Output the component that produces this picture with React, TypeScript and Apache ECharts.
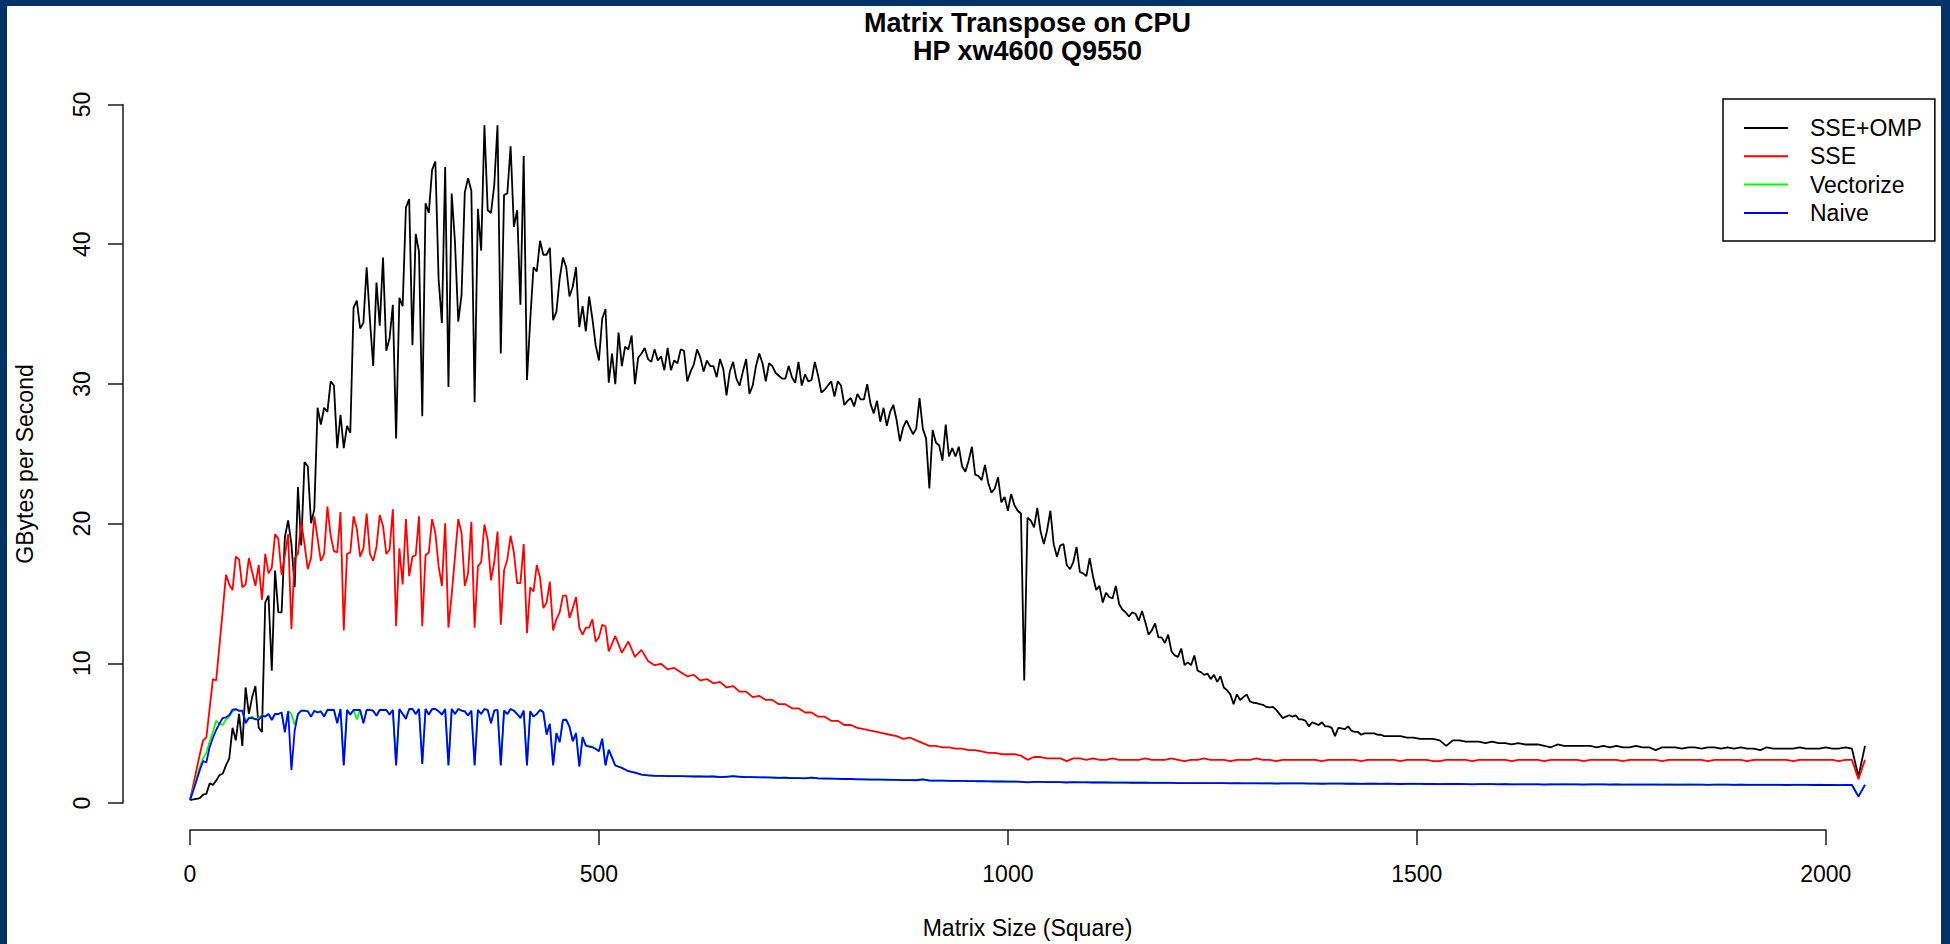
import React, { useEffect, useRef } from "react";
import * as echarts from "echarts";

// ---------- data ----------
// Matrix sizes used by SSE / Vectorize / Naive: every 4 up to 512, then every 8 up to 2048
const SHARED_SIZES: number[] = [];
for (let s = 0; s <= 512; s += 4) SHARED_SIZES.push(s);
for (let s = 520; s <= 2048; s += 8) SHARED_SIZES.push(s);
// Matrix sizes used by SSE+OMP: every 4 up to 1480, then every 8 up to 2048
const OMP_SIZES: number[] = [];
for (let s = 0; s <= 1480; s += 4) OMP_SIZES.push(s);
for (let s = 1488; s <= 2048; s += 8) OMP_SIZES.push(s);

const SERIES_NAMES = ["SSE+OMP", "SSE", "Vectorize", "Naive"];
const SERIES_COLORS = ["#000000", "#ff0000", "#00ff00", "#0000ff"];

const SSE_OMP_HEAD = [
  0, 0.05, 0.1, 0.15, 0.4, 0.45, 1.2, 1.1, 1.4, 1.8, 1.9, 2.5, 3.0, 5.2, 4.3, 6.2,
  3.9, 8.1, 6.2, 7.4, 8.2, 5.2, 4.9, 14.2, 14.7, 9.3, 16.5, 13.5, 13.5, 18.9, 20.1, 18.4,
  15.3, 22.5, 18.3, 24.3, 24.0, 19.9, 20.9, 28.2, 27.0, 28.2, 27.9, 30.1, 29.8, 25.3, 27.7, 25.3,
  26.9, 26.4, 35.4, 35.9, 33.9, 34.3, 38.3, 34.5, 31.2, 37.2, 34.1, 39.0, 32.3, 33.2, 35.6, 26.0,
  36.1, 35.5, 42.6, 43.2, 32.7, 40.7, 39.4, 27.6, 42.9, 42.2, 45.3, 45.9, 37.4, 34.3, 45.5, 29.7,
  43.6, 40.1, 34.4, 36.3, 43.7, 44.7, 43.8, 28.6, 42.5, 39.5, 48.5, 42.4, 42.2, 44.2, 48.5, 32.1,
  43.5, 43.6, 47.0, 41.2, 42.4, 35.6, 46.3, 30.2, 34.5, 38.3, 38.0, 40.2, 39.2, 39.2, 39.7, 34.5,
  35.1, 37.5, 39.0, 38.3, 36.2, 36.9, 38.3, 34.0, 35.5, 33.7, 36.2, 34.6, 32.7, 31.6, 34.6, 35.3,
  30.0,
];
const SSE_OMP_MID = [
  32.1, 29.9, 33.6, 31.2, 32.6, 32.4, 33.4, 29.9, 31.8, 32.1, 32.5, 31.7, 31.5, 32.4, 31.6, 31.9,
  30.9, 32.5, 30.9, 31.6, 31.4, 32.4, 32.3, 30.1, 30.8, 31.3, 32.4, 31.8, 30.8, 31.6, 31.2, 31.2,
  30.4, 31.7, 31.0, 29.1, 30.8, 31.5, 30.3, 29.8, 30.8, 31.7, 29.2, 29.8, 31.2, 32.1, 31.4, 30.1,
  31.4, 31.2, 30.7, 30.5, 30.3, 30.3, 31.2, 30.4, 30.0, 31.5, 29.8, 30.6, 30.1, 30.2, 31.5, 30.5,
  29.3, 29.5, 29.8, 30.1, 29.0, 30.1, 29.8, 28.4, 28.7, 28.9, 28.3, 29.2, 28.8, 28.8, 29.9, 28.5,
  27.8, 28.7, 27.2, 28.2, 26.9, 27.9, 28.4, 27.3, 25.8, 26.8, 27.3, 26.8, 26.3, 26.7, 28.9, 26.7,
  26.0, 22.4, 26.6, 25.7, 25.5, 24.4, 27.0, 24.7, 25.3, 24.7, 25.4, 24.0, 23.6, 24.4, 25.4, 23.4,
  23.3, 23.0, 24.1, 22.8, 22.1, 22.4, 23.2, 21.4, 21.8, 20.8, 22.0, 21.2, 20.8, 20.6, 8.6, 20.3,
  20.1, 19.6, 21.0, 19.3, 18.4, 19.4, 20.8, 18.4, 17.5, 18.3, 18.4, 16.9, 16.6, 17.1, 18.2, 16.4,
  16.3, 16.1, 17.4, 16.1, 15.1, 15.4, 14.2, 14.9, 14.6, 14.5, 15.4, 14.1, 13.7, 13.5, 13.2, 13.5,
  13.4, 12.9, 13.6, 12.8, 11.9, 12.2, 12.7, 11.7, 11.7, 11.3, 11.9, 10.7, 10.4, 10.3, 10.9, 9.7,
  9.9, 9.7, 10.4, 9.3, 9.2, 9.0, 9.1, 8.7, 9.0, 8.5, 8.9, 8.1, 7.9, 7.6, 6.9, 7.6,
  7.2, 7.4, 7.6, 7.1, 7.0, 6.97, 6.9, 6.85, 6.7, 6.66, 6.7, 6.5, 6.2, 5.9, 6.0, 6.1,
  6.0, 6.1, 5.8, 5.8, 5.7, 5.3, 5.6, 5.5, 5.4, 5.6, 5.3, 5.3, 5.2, 4.6, 5.2, 5.15,
  5.1, 5.3, 5.0, 4.9, 4.9, 4.7, 4.8, 4.8, 4.8, 4.8, 4.7, 4.7, 4.6, 4.6, 4.6, 4.6,
  4.6, 4.6,
];
const SSE_OMP_TAIL = [
  4.5, 4.5, 4.4, 4.4, 4.4, 4.3, 3.9,
  4.3, 4.3, 4.2, 4.2, 4.2, 4.1, 4.2, 4.1, 4.1, 4.0, 4.1, 4.0, 4.0, 4.0, 3.9, 3.8,
  4.0, 3.9, 3.9, 3.9, 3.9, 3.9, 3.8, 3.9, 3.8, 3.9, 3.8, 3.8, 3.9, 3.8, 3.8, 3.6,
  3.8, 3.8, 3.8, 3.7, 3.8, 3.8, 3.7, 3.8, 3.8, 3.7, 3.8, 3.7, 3.8, 3.7, 3.7, 3.6,
  3.8, 3.7, 3.7, 3.7, 3.7, 3.8, 3.7, 3.7, 3.7, 3.8, 3.7, 3.7, 3.8, 3.7, 1.7, 3.9,
];

const SSE_FINE = [
  0, 1.1, 2.2, 3.3, 4.3, 4.5, 6.6, 8.7, 8.6, 11.1, 13.6, 16.2, 15.5, 15.1, 17.5, 17.3,
  15.3, 15.5, 17.4, 16.4, 15.4, 16.9, 14.4, 17.7, 16.3, 16.7, 19.1, 18.8, 16.2, 17.6, 19.1, 12.3,
  17.4, 17.7, 20.0, 18.4, 16.6, 17.4, 20.4, 18.8, 17.2, 17.7, 21.1, 19.0, 17.9, 17.8, 20.7, 12.2,
  17.7, 17.8, 20.4, 19.5, 17.5, 18.1, 20.6, 17.7, 17.2, 18.2, 20.5, 19.7, 17.7, 18.0, 20.9, 12.5,
  18.1, 15.5, 20.2, 16.1, 17.5, 17.6, 20.4, 12.5, 17.6, 17.8, 20.2, 19.2, 16.8, 15.4, 19.9, 12.4,
  14.8, 17.5, 20.2, 19.2, 15.4, 16.3, 20.0, 12.4, 16.8, 17.1, 19.8, 18.7, 15.8, 17.1, 19.3, 12.6,
  16.5, 17.3, 19.0, 17.8, 15.6, 15.6, 18.4, 12.0, 15.3, 15.0, 16.9, 16.0, 13.8, 14.2, 15.7, 12.2,
  13.0, 13.5, 14.7, 14.7, 13.1, 13.8, 14.6, 12.4, 11.9, 12.4, 12.4, 13.0, 11.4, 11.7, 12.6, 12.5,
  10.7,
];
const SSE_COARSE = [
  11.8, 10.6, 11.4, 10.3, 10.8, 10.0, 9.7, 9.8, 9.4, 9.5, 9.2, 8.9, 9.0, 8.6, 8.7, 8.4,
  8.5, 8.1, 8.2, 7.8, 7.8, 7.4, 7.5, 7.2, 7.2, 6.9, 6.9, 6.6, 6.6, 6.3, 6.3, 6.0,
  6.0, 5.7, 5.7, 5.4, 5.4, 5.2, 5.1, 5.0, 4.9, 4.8, 4.7, 4.6, 4.4, 4.5, 4.3, 4.1,
  3.9, 3.9, 3.8, 3.8, 3.7, 3.7, 3.6, 3.6, 3.5, 3.4, 3.4, 3.3, 3.3, 3.3, 3.2, 2.9,
  3.1, 3.1, 3.0, 3.0, 3.0, 2.8, 3.0, 3.0, 2.9, 3.0, 2.9, 2.9, 3.0, 2.9, 2.9, 2.9,
  2.9, 3.0, 2.9, 2.9, 2.9, 3.0, 2.9, 2.8, 2.9, 2.9, 3.0, 2.9, 2.9, 2.9, 2.8, 2.9,
  2.9, 2.9, 3.0, 2.9, 2.9, 2.8, 2.9, 2.9, 2.9, 2.9, 2.9, 2.9, 2.8, 2.9, 2.9, 2.9,
  2.9, 2.9, 2.8, 2.9, 2.9, 2.9, 2.9, 2.9, 2.8, 2.9, 2.9, 2.9, 2.9, 2.8, 2.8, 2.9,
  2.9, 2.9, 2.9, 2.8, 2.9, 2.9, 2.9, 2.9, 2.9, 2.8, 2.9, 2.9, 2.9, 2.9, 2.8, 2.9,
  2.9, 2.9, 2.9, 2.9, 2.8, 2.9, 2.9, 2.9, 2.9, 2.9, 2.8, 2.9, 2.9, 2.9, 2.9, 2.9,
  2.8, 2.9, 2.9, 2.9, 2.9, 2.9, 2.9, 2.8, 2.9, 2.9, 2.9, 2.9, 2.9, 2.8, 2.9, 2.9,
  2.9, 2.9, 2.9, 2.9, 2.8, 2.9, 2.9, 2.9, 2.9, 2.9, 2.9, 2.8, 2.9, 2.9, 1.5, 2.9,
];

const VECTORIZE_FINE = [
  0, 0.8, 1.6, 2.4, 3.0, 3.4, 4.2, 4.9, 5.7, 5.5, 5.4, 5.8, 6.0, 6.4, 6.5, 6.4,
  6.4, 5.7, 5.9, 6.0, 5.8, 5.9, 6.1, 6.0, 6.2, 5.8, 6.2, 6.2, 6.3, 5.0, 6.4, 6.2,
  5.4, 6.2, 6.4, 6.4, 6.4, 6.0, 6.4, 6.3, 6.4, 6.0, 6.5, 6.5, 6.5, 5.6, 6.5, 2.55,
  6.5, 6.2, 6.5, 5.8, 6.5, 5.6, 6.5, 6.5, 6.4, 6.1, 6.5, 6.5, 6.5, 6.2, 6.5, 2.55,
  6.5, 6.2, 6.0, 6.5, 6.55, 6.2, 6.55, 2.65, 6.55, 6.2, 6.55, 6.55, 6.4, 6.2, 6.55, 2.55,
  6.55, 6.2, 6.55, 6.45, 6.4, 6.1, 6.45, 2.55, 6.5, 6.2, 6.55, 6.5, 5.6, 6.45, 6.5, 2.55,
  6.45, 6.2, 6.55, 6.45, 6.2, 5.95, 6.45, 2.55, 6.4, 6.05, 6.2, 6.5, 6.35, 4.8, 5.5, 2.55,
  4.85, 4.2, 5.8, 5.8, 5.3, 4.3, 4.85, 2.45, 4.55, 3.95, 3.9, 3.85, 3.7, 3.55, 4.45, 2.55,
  3.65,
];
const VECTORIZE_COARSE = [
  2.5, 2.33, 2.09, 1.98, 1.85, 1.79, 1.76, 1.75, 1.74, 1.73, 1.73, 1.72, 1.71, 1.71, 1.70, 1.71,
  1.67, 1.69, 1.72, 1.69, 1.67, 1.67, 1.65, 1.64, 1.63, 1.61, 1.62, 1.59, 1.59, 1.58, 1.62, 1.57,
  1.56, 1.55, 1.54, 1.53, 1.53, 1.51, 1.50, 1.49, 1.49, 1.48, 1.47, 1.46, 1.45, 1.45, 1.44, 1.49,
  1.42, 1.41, 1.41, 1.40, 1.39, 1.39, 1.38, 1.37, 1.37, 1.36, 1.35, 1.35, 1.34, 1.34, 1.33, 1.29,
  1.32, 1.32, 1.31, 1.31, 1.30, 1.28, 1.30, 1.29, 1.29, 1.28, 1.28, 1.28, 1.27, 1.27, 1.27, 1.26,
  1.26, 1.26, 1.25, 1.25, 1.25, 1.25, 1.24, 1.23, 1.24, 1.24, 1.23, 1.23, 1.23, 1.23, 1.22, 1.23,
  1.22, 1.22, 1.22, 1.21, 1.22, 1.20, 1.21, 1.21, 1.21, 1.21, 1.20, 1.20, 1.19, 1.20, 1.20, 1.20,
  1.19, 1.19, 1.18, 1.19, 1.19, 1.18, 1.19, 1.18, 1.17, 1.18, 1.18, 1.18, 1.17, 1.17, 1.16, 1.17,
  1.17, 1.17, 1.16, 1.15, 1.16, 1.16, 1.16, 1.15, 1.16, 1.14, 1.15, 1.15, 1.15, 1.15, 1.13, 1.15,
  1.14, 1.15, 1.14, 1.14, 1.13, 1.14, 1.14, 1.14, 1.13, 1.14, 1.12, 1.13, 1.13, 1.13, 1.13, 1.13,
  1.12, 1.13, 1.12, 1.12, 1.13, 1.12, 1.12, 1.11, 1.12, 1.12, 1.12, 1.11, 1.12, 1.11, 1.11, 1.11,
  1.11, 1.11, 1.11, 1.10, 1.11, 1.11, 1.11, 1.10, 1.11, 1.10, 1.10, 1.09, 1.10, 1.10, 0.3, 1.11,
];

const NAIVE_FINE = [
  0, 0.69, 1.41, 2.17, 2.8, 2.72, 3.8, 4.47, 5.04, 5.5, 5.9, 5.95, 6.1, 6.5, 6.55, 6.43,
  6.43, 5.52, 5.9, 5.9, 5.83, 5.76, 6.07, 6.0, 6.19, 5.76, 6.19, 6.19, 6.3, 4.87, 6.38, 2.17,
  5.0, 6.19, 6.43, 6.43, 6.38, 6.0, 6.43, 6.3, 6.38, 6.0, 6.48, 6.48, 6.48, 5.52, 6.55, 2.49,
  6.48, 6.14, 6.48, 6.48, 6.48, 5.52, 6.48, 6.48, 6.43, 6.07, 6.48, 6.48, 6.48, 6.14, 6.48, 2.49,
  6.55, 6.19, 5.83, 6.55, 6.55, 6.19, 6.55, 2.6, 6.55, 6.14, 6.55, 6.55, 6.38, 6.14, 6.55, 2.49,
  6.55, 6.19, 6.55, 6.43, 6.38, 6.07, 6.43, 2.49, 6.48, 6.19, 6.55, 6.48, 5.52, 6.43, 6.48, 2.49,
  6.43, 6.19, 6.55, 6.43, 6.19, 5.9, 6.43, 2.49, 6.38, 6.0, 6.19, 6.48, 6.31, 4.71, 5.47, 2.49,
  4.8, 4.16, 5.76, 5.76, 5.28, 4.23, 4.8, 2.41, 4.52, 3.92, 3.85, 3.8, 3.68, 3.51, 4.4, 2.49,
  3.61,
];
const NAIVE_COARSE = [
  2.49, 2.32, 2.08, 1.97, 1.84, 1.78, 1.75, 1.74, 1.73, 1.72, 1.72, 1.71, 1.70, 1.70, 1.69, 1.70,
  1.66, 1.68, 1.72, 1.68, 1.66, 1.66, 1.64, 1.63, 1.62, 1.60, 1.61, 1.58, 1.58, 1.57, 1.62, 1.56,
  1.55, 1.54, 1.53, 1.52, 1.52, 1.50, 1.49, 1.48, 1.48, 1.47, 1.46, 1.45, 1.44, 1.44, 1.43, 1.49,
  1.41, 1.40, 1.40, 1.39, 1.38, 1.38, 1.37, 1.36, 1.36, 1.35, 1.34, 1.34, 1.33, 1.33, 1.32, 1.28,
  1.31, 1.31, 1.30, 1.30, 1.29, 1.27, 1.29, 1.28, 1.28, 1.27, 1.27, 1.27, 1.26, 1.26, 1.26, 1.25,
  1.25, 1.25, 1.24, 1.24, 1.24, 1.24, 1.23, 1.22, 1.23, 1.23, 1.22, 1.22, 1.22, 1.22, 1.21, 1.22,
  1.21, 1.21, 1.21, 1.20, 1.21, 1.19, 1.20, 1.20, 1.20, 1.20, 1.19, 1.19, 1.18, 1.19, 1.19, 1.19,
  1.18, 1.18, 1.17, 1.18, 1.18, 1.17, 1.18, 1.17, 1.16, 1.17, 1.17, 1.17, 1.16, 1.16, 1.15, 1.16,
  1.16, 1.16, 1.15, 1.14, 1.15, 1.15, 1.15, 1.14, 1.15, 1.13, 1.14, 1.14, 1.14, 1.14, 1.12, 1.14,
  1.13, 1.14, 1.13, 1.13, 1.12, 1.13, 1.13, 1.13, 1.12, 1.13, 1.11, 1.12, 1.12, 1.12, 1.12, 1.12,
  1.11, 1.12, 1.11, 1.11, 1.12, 1.11, 1.11, 1.10, 1.11, 1.11, 1.11, 1.10, 1.11, 1.10, 1.10, 1.10,
  1.10, 1.10, 1.10, 1.09, 1.10, 1.10, 1.10, 1.09, 1.10, 1.09, 1.09, 1.08, 1.09, 1.09, 0.25, 1.10,
];

const SERIES_SIZES = [OMP_SIZES, SHARED_SIZES, SHARED_SIZES, SHARED_SIZES];
const SERIES_VALUES = [
  [...SSE_OMP_HEAD, ...SSE_OMP_MID, ...SSE_OMP_TAIL],
  [...SSE_FINE, ...SSE_COARSE],
  [...VECTORIZE_FINE, ...VECTORIZE_COARSE],
  [...NAIVE_FINE, ...NAIVE_COARSE],
];

const X_TICKS = { min: 0, max: 2000, step: 500 };
const Y_TICKS = { min: 0, max: 50, step: 10 };

const TITLE = "Matrix Transpose on CPU\nHP xw4600 Q9550";
const X_NAME = "Matrix Size (Square)";
const Y_NAME = "GBytes per Second";

// ---------- layout ----------
const W = 1950;
const H = 944;
const FONT = "'Liberation Sans', Arial, Helvetica, sans-serif";
const FRAME = "#003466";
const PLOT = { left: 123, right: 1932, top: 101, bottom: 830 };
// R-style 4% padding of the data range
const X_RANGE = [-81.92, 2129.92];
const Y_RANGE = [-1.93, 50.25];

const px = (u: number) =>
  PLOT.left + ((u - X_RANGE[0]) / (X_RANGE[1] - X_RANGE[0])) * (PLOT.right - PLOT.left);
const py = (v: number) =>
  PLOT.bottom - ((v - Y_RANGE[0]) / (Y_RANGE[1] - Y_RANGE[0])) * (PLOT.bottom - PLOT.top);

export default function App() {
  const ref = useRef<HTMLDivElement>(null);

  useEffect(() => {
    if (!ref.current) return;
    const chart = echarts.init(ref.current, undefined, { renderer: "svg" });

    const axisColor = "#1a1a1a";
    const hidden = {
      axisLine: { show: false },
      axisTick: { show: false },
      axisLabel: { show: false },
      splitLine: { show: false },
    };

    const option: any = {
      animation: false,
      backgroundColor: "#ffffff",
      textStyle: { fontFamily: FONT },
      title: {
        text: TITLE,
        left: (PLOT.left + PLOT.right) / 2,
        top: 9,
        padding: 0,
        textAlign: "center",
        textStyle: {
          fontFamily: FONT,
          fontSize: 27,
          fontWeight: "bold",
          color: "#000",
          lineHeight: 28,
        },
      },
      legend: {
        data: SERIES_NAMES,
        orient: "vertical",
        left: 1723,
        top: 99,
        padding: [17, 13, 16, 21],
        itemWidth: 61,
        itemHeight: 2,
        itemGap: 4.3,
        icon: "path://M0,0H44V2H0Z M61,0L61,2Z",
        borderColor: "#000",
        borderWidth: 1.5,
        selectedMode: false,
        textStyle: { fontFamily: FONT, fontSize: 23, color: "#000", lineHeight: 24 },
      },
      graphic: [
        { type: "rect", left: 0, top: 0, shape: { width: 7, height: H }, style: { fill: FRAME }, z: 100 },
        { type: "rect", left: 0, top: 0, shape: { width: W, height: 6 }, style: { fill: FRAME }, z: 100 },
        { type: "rect", left: 1941, top: 0, shape: { width: W - 1941, height: H }, style: { fill: FRAME }, z: 100 },
      ],
      grid: [
        {
          left: PLOT.left,
          top: PLOT.top,
          width: PLOT.right - PLOT.left,
          height: PLOT.bottom - PLOT.top,
        },
        {
          left: px(X_TICKS.min),
          top: PLOT.top,
          width: px(X_TICKS.max) - px(X_TICKS.min),
          height: PLOT.bottom - PLOT.top,
        },
        {
          left: PLOT.left,
          top: py(Y_TICKS.max),
          width: PLOT.right - PLOT.left,
          height: py(Y_TICKS.min) - py(Y_TICKS.max),
        },
      ],
      xAxis: [
        {
          type: "value",
          gridIndex: 0,
          min: X_RANGE[0],
          max: X_RANGE[1],
          ...hidden,
          name: X_NAME,
          nameLocation: "middle",
          nameGap: 89,
          nameTextStyle: { fontFamily: FONT, fontSize: 23, color: "#000" },
        },
        {
          type: "value",
          gridIndex: 1,
          min: X_TICKS.min,
          max: X_TICKS.max,
          interval: X_TICKS.step,
          axisLine: { show: true, onZero: false, lineStyle: { color: axisColor, width: 1.5 } },
          axisTick: { show: true, inside: false, length: 15, lineStyle: { color: axisColor, width: 1.5 } },
          axisLabel: {
            show: true,
            margin: 32,
            fontFamily: FONT,
            fontSize: 23,
            color: "#000",
            formatter: (v: number) => String(v),
          },
          splitLine: { show: false },
        },
        { type: "value", gridIndex: 2, show: false, min: 0, max: 1 },
      ],
      yAxis: [
        {
          type: "value",
          gridIndex: 0,
          min: Y_RANGE[0],
          max: Y_RANGE[1],
          ...hidden,
          name: Y_NAME,
          nameLocation: "middle",
          nameRotate: 90,
          nameGap: 87,
          nameTextStyle: { fontFamily: FONT, fontSize: 23, color: "#000" },
        },
        { type: "value", gridIndex: 1, show: false, min: 0, max: 1 },
        {
          type: "value",
          gridIndex: 2,
          min: Y_TICKS.min,
          max: Y_TICKS.max,
          interval: Y_TICKS.step,
          axisLine: { show: true, onZero: false, lineStyle: { color: axisColor, width: 1.5 } },
          axisTick: { show: true, inside: false, length: 15, lineStyle: { color: axisColor, width: 1.5 } },
          axisLabel: {
            show: true,
            rotate: 90,
            margin: 30,
            fontFamily: FONT,
            fontSize: 23,
            color: "#000",
            formatter: (v: number) => String(v),
          },
          splitLine: { show: false },
        },
      ],
      series: SERIES_NAMES.map((name, k) => ({
        name,
        type: "line",
        xAxisIndex: 0,
        yAxisIndex: 0,
        showSymbol: false,
        symbol: "none",
        silent: true,
        lineStyle: { color: SERIES_COLORS[k], width: 1.8 },
        itemStyle: { color: SERIES_COLORS[k] },
        data: SERIES_SIZES[k].map((s, i) => [s, SERIES_VALUES[k][i]]),
      })),
    };

    chart.setOption(option);
    return () => chart.dispose();
  }, []);

  return (
    <div
      ref={ref}
      style={{ position: "absolute", left: 0, top: 0, width: W, height: H }}
    />
  );
}
